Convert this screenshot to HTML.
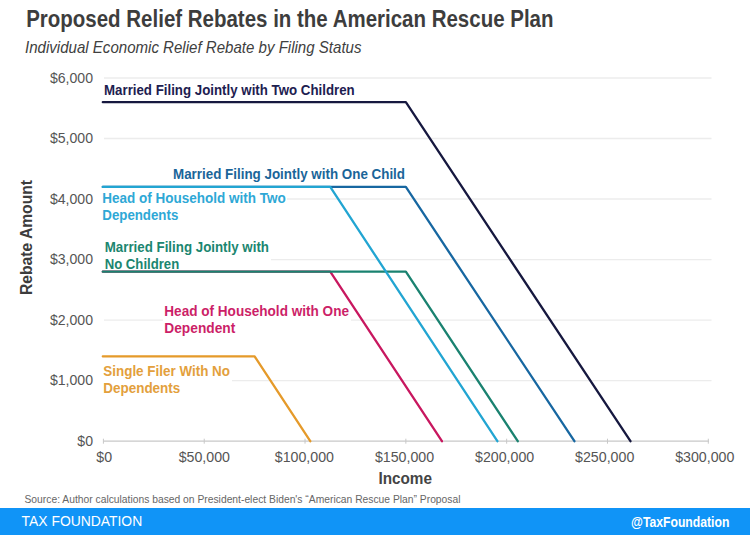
<!DOCTYPE html>
<html><head><meta charset="utf-8"><style>
html,body{margin:0;padding:0;background:#fff;width:750px;height:535px;overflow:hidden}
svg{display:block}
</style></head><body>
<svg width="750" height="535" viewBox="0 0 750 535" font-family='"Liberation Sans", sans-serif'><rect x="0" y="0" width="750" height="535" fill="#ffffff"/>
<line x1="104" y1="380.67" x2="711.5" y2="380.67" stroke="#ececec" stroke-width="1.4"/>
<line x1="104" y1="320.13" x2="711.5" y2="320.13" stroke="#ececec" stroke-width="1.4"/>
<line x1="104" y1="259.60" x2="711.5" y2="259.60" stroke="#ececec" stroke-width="1.4"/>
<line x1="104" y1="199.07" x2="711.5" y2="199.07" stroke="#ececec" stroke-width="1.4"/>
<line x1="104" y1="138.53" x2="711.5" y2="138.53" stroke="#ececec" stroke-width="1.4"/>
<line x1="104" y1="78.00" x2="711.5" y2="78.00" stroke="#ececec" stroke-width="1.4"/>
<text x="93" y="445.70" text-anchor="end" font-size="14.1" fill="#555">$0</text>
<text x="93" y="385.17" text-anchor="end" font-size="14.1" fill="#555">$1,000</text>
<text x="93" y="324.63" text-anchor="end" font-size="14.1" fill="#555">$2,000</text>
<text x="93" y="264.10" text-anchor="end" font-size="14.1" fill="#555">$3,000</text>
<text x="93" y="203.57" text-anchor="end" font-size="14.1" fill="#555">$4,000</text>
<text x="93" y="143.03" text-anchor="end" font-size="14.1" fill="#555">$5,000</text>
<text x="93" y="82.50" text-anchor="end" font-size="14.1" fill="#555">$6,000</text>
<rect x="101" y="189" width="186" height="35" fill="#fff"/>
<rect x="103" y="238" width="168" height="31.5" fill="#fff"/>
<rect x="163" y="302" width="188" height="35" fill="#fff"/>
<rect x="102" y="362" width="130" height="35" fill="#fff"/>
<text x="104" y="95.2" font-size="14.4" font-weight="bold" fill="#1d2050" text-anchor="start" textLength="250.7" lengthAdjust="spacingAndGlyphs" stroke="#fff" stroke-width="3" paint-order="stroke" stroke-linejoin="round">Married Filing Jointly with Two Children</text>
<text x="173" y="179.2" font-size="14.4" font-weight="bold" fill="#1a6599" text-anchor="start" textLength="232" lengthAdjust="spacingAndGlyphs" stroke="#fff" stroke-width="3" paint-order="stroke" stroke-linejoin="round">Married Filing Jointly with One Child</text>
<text x="102.3" y="203" font-size="14.4" font-weight="bold" fill="#2ea8d6" text-anchor="start" textLength="183.4" lengthAdjust="spacingAndGlyphs" stroke="#fff" stroke-width="3" paint-order="stroke" stroke-linejoin="round">Head of Household with Two</text>
<text x="102.3" y="220" font-size="14.4" font-weight="bold" fill="#2ea8d6" text-anchor="start" textLength="76" lengthAdjust="spacingAndGlyphs" stroke="#fff" stroke-width="3" paint-order="stroke" stroke-linejoin="round">Dependents</text>
<text x="104.7" y="251.5" font-size="14.4" font-weight="bold" fill="#1b8670" text-anchor="start" textLength="164.3" lengthAdjust="spacingAndGlyphs" stroke="#fff" stroke-width="3" paint-order="stroke" stroke-linejoin="round">Married Filing Jointly with</text>
<text x="104.7" y="268.6" font-size="14.4" font-weight="bold" fill="#1b8670" text-anchor="start" textLength="74.5" lengthAdjust="spacingAndGlyphs" stroke="#fff" stroke-width="3" paint-order="stroke" stroke-linejoin="round">No Children</text>
<text x="164.3" y="316" font-size="14.4" font-weight="bold" fill="#cc1f68" text-anchor="start" textLength="184.7" lengthAdjust="spacingAndGlyphs" stroke="#fff" stroke-width="3" paint-order="stroke" stroke-linejoin="round">Head of Household with One</text>
<text x="164.3" y="333" font-size="14.4" font-weight="bold" fill="#cc1f68" text-anchor="start" textLength="71" lengthAdjust="spacingAndGlyphs" stroke="#fff" stroke-width="3" paint-order="stroke" stroke-linejoin="round">Dependent</text>
<text x="103.3" y="375.9" font-size="14.4" font-weight="bold" fill="#e3a03c" text-anchor="start" textLength="126.7" lengthAdjust="spacingAndGlyphs" stroke="#fff" stroke-width="3" paint-order="stroke" stroke-linejoin="round">Single Filer With No</text>
<text x="103.3" y="392.8" font-size="14.4" font-weight="bold" fill="#e3a03c" text-anchor="start" textLength="77" lengthAdjust="spacingAndGlyphs" stroke="#fff" stroke-width="3" paint-order="stroke" stroke-linejoin="round">Dependents</text>
<line x1="103.4" y1="441.2" x2="709" y2="441.2" stroke="#c8c8c8" stroke-width="1.3"/>
<line x1="103.40" y1="438.7" x2="103.40" y2="443.7" stroke="#c8c8c8" stroke-width="1"/>
<text x="104.20" y="462" text-anchor="middle" font-size="14.2" fill="#555">$0</text>
<line x1="204.22" y1="438.7" x2="204.22" y2="443.7" stroke="#c8c8c8" stroke-width="1"/>
<text x="204.30" y="462" text-anchor="middle" font-size="14.2" fill="#555">$50,000</text>
<line x1="305.03" y1="438.7" x2="305.03" y2="443.7" stroke="#c8c8c8" stroke-width="1"/>
<text x="304.40" y="462" text-anchor="middle" font-size="14.2" fill="#555">$100,000</text>
<line x1="405.85" y1="438.7" x2="405.85" y2="443.7" stroke="#c8c8c8" stroke-width="1"/>
<text x="404.50" y="462" text-anchor="middle" font-size="14.2" fill="#555">$150,000</text>
<line x1="506.67" y1="438.7" x2="506.67" y2="443.7" stroke="#c8c8c8" stroke-width="1"/>
<text x="504.60" y="462" text-anchor="middle" font-size="14.2" fill="#555">$200,000</text>
<line x1="607.48" y1="438.7" x2="607.48" y2="443.7" stroke="#c8c8c8" stroke-width="1"/>
<text x="604.70" y="462" text-anchor="middle" font-size="14.2" fill="#555">$250,000</text>
<line x1="708.30" y1="438.7" x2="708.30" y2="443.7" stroke="#c8c8c8" stroke-width="1"/>
<text x="704.80" y="462" text-anchor="middle" font-size="14.2" fill="#555">$300,000</text>
<path d="M102.80,102.21 L405.85,102.21 L630.47,441.20" fill="none" stroke="#16183f" stroke-width="2.3" stroke-linejoin="round" stroke-linecap="round"/>
<path d="M102.80,186.96 L405.85,186.96 L574.42,441.20" fill="none" stroke="#1767a1" stroke-width="2.3" stroke-linejoin="round" stroke-linecap="round"/>
<path d="M102.80,271.71 L330.24,271.71 L441.94,441.20" fill="none" stroke="#c8175f" stroke-width="2.3" stroke-linejoin="round" stroke-linecap="round"/>
<path d="M102.80,271.71 L405.85,271.71 L517.76,441.20" fill="none" stroke="#1a8270" stroke-width="2.3" stroke-linejoin="round" stroke-linecap="round"/>
<path d="M102.80,186.96 L330.24,186.96 L497.39,441.20" fill="none" stroke="#22a5d2" stroke-width="2.3" stroke-linejoin="round" stroke-linecap="round"/>
<path d="M102.80,356.45 L254.62,356.45 L310.28,441.20" fill="none" stroke="#e59a2a" stroke-width="2.3" stroke-linejoin="round" stroke-linecap="round"/>
<text x="26.2" y="27.1" font-size="23.2" font-weight="bold" fill="#3d3d3d" text-anchor="start" textLength="527.3" lengthAdjust="spacingAndGlyphs" >Proposed Relief Rebates in the American Rescue Plan</text>
<text x="25" y="52.8" font-size="16.5" font-weight="normal" fill="#404040" text-anchor="start" textLength="336.5" lengthAdjust="spacingAndGlyphs" font-style="italic">Individual Economic Relief Rebate by Filing Status</text>
<text x="378.4" y="483.7" font-size="16" font-weight="bold" fill="#444" text-anchor="start" textLength="53.6" lengthAdjust="spacingAndGlyphs" >Income</text>
<text transform="translate(32.2,295) rotate(-90)" x="0" y="0" font-size="16" font-weight="bold" fill="#3c3c3c" textLength="115" lengthAdjust="spacingAndGlyphs">Rebate Amount</text>
<text x="24.5" y="502.7" font-size="11" font-weight="normal" fill="#666" text-anchor="start" textLength="436" lengthAdjust="spacingAndGlyphs" >Source: Author calculations based on President-elect Biden's “American Rescue Plan” Proposal</text>
<rect x="0" y="508" width="750" height="27" fill="#1094f7"/>
<text x="21.6" y="525.7" font-size="14.5" font-weight="normal" fill="#fff" text-anchor="start" textLength="120.6" lengthAdjust="spacingAndGlyphs" >TAX FOUNDATION</text>
<text x="631" y="526.8" font-size="14.6" font-weight="bold" fill="#fff" text-anchor="start" textLength="98.4" lengthAdjust="spacingAndGlyphs" >@TaxFoundation</text></svg>
</body></html>
